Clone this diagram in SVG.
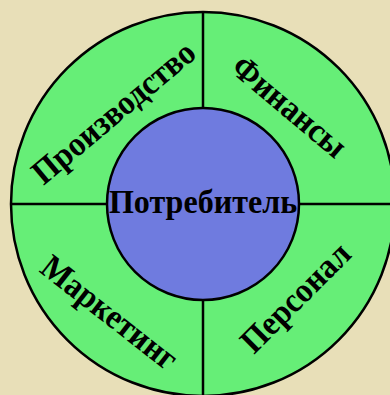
<svg xmlns="http://www.w3.org/2000/svg" width="390" height="395" viewBox="0 0 390 395">
<style>
.lbl{font-family:"Liberation Serif","Times New Roman",serif;font-weight:bold;font-size:34.5px;fill:#000;text-anchor:middle}
.ln{stroke:#000;stroke-width:2.5;fill:none}
</style>
<rect width="390" height="395" fill="#e8dfb8"/>
<g id="ring">
<circle cx="203" cy="204" r="192" fill="#66ee77" stroke="#000" stroke-width="2.5"/>
</g>
<g id="connectors">
<line class="ln" x1="203" y1="12" x2="203" y2="108"/>
<line class="ln" x1="203" y1="300" x2="203" y2="396"/>
<line class="ln" x1="11" y1="204" x2="107" y2="204"/>
<line class="ln" x1="299" y1="204" x2="395" y2="204"/>
</g>
<g id="center">
<circle cx="203" cy="204" r="96" fill="#6f7bdf" stroke="#000" stroke-width="2.5"/>
<text class="lbl" transform="translate(203,213) scale(0.93,1)">Потребитель</text>
</g>
<g id="proizvodstvo" transform="translate(113,112) rotate(-40) scale(0.93,1)">
<text class="lbl" x="0" y="12">Производство</text>
</g>
<g id="finansy" transform="translate(290,106) rotate(40) scale(0.93,1)">
<text class="lbl" x="0" y="12">Финансы</text>
</g>
<g id="marketing" transform="translate(110,312) rotate(38) scale(0.93,1)">
<text class="lbl" x="0" y="12">Маркетинг</text>
</g>
<g id="personal" transform="translate(295,297) rotate(-45) scale(0.93,1)">
<text class="lbl" x="0" y="12">Персонал</text>
</g>
</svg>
